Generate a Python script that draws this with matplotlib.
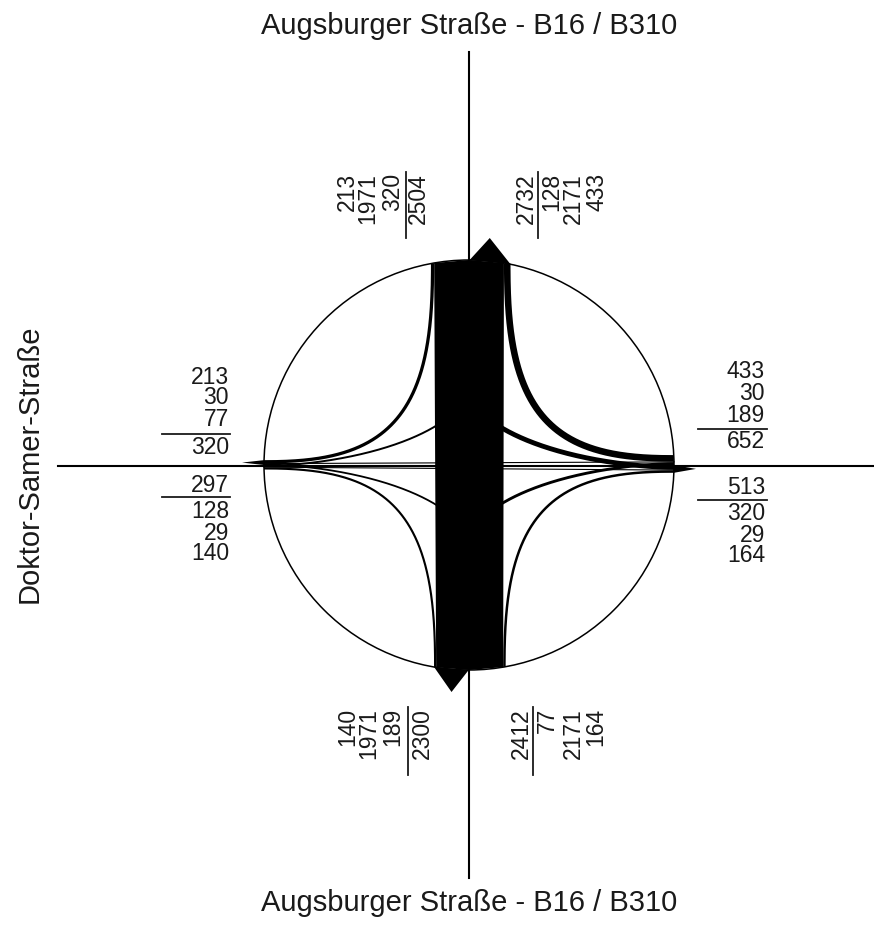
import numpy as np
import matplotlib
matplotlib.use("Agg")
import matplotlib.pyplot as plt
from matplotlib.patches import Polygon, Circle

plt.rcParams['font.family'] = ['Liberation Sans', 'DejaVu Sans']

# traffic volumes (veh) per arm, as printed in the plan
north_in = [213, 1971, 320]    # outer -> inner : to W, to S, to E
north_out = [128, 2171, 433]   # inner -> outer : from W, from S, from E
south_out = [140, 1971, 189]   # outer -> inner : from W, from N, from E
south_in = [77, 2171, 164]     # inner -> outer : to W, to N, to E
west_out = [213, 30, 77]       # top -> bottom : from N, from E, from S
west_in = [128, 29, 140]       # top -> bottom : to N, to E, to S
east_in = [433, 30, 189]       # top -> bottom : to N, to W, to S
east_out = [320, 29, 164]      # top -> bottom : from N, from W, from S

street_ns = "Augsburger Straße - B16 / B310"
street_w = "Doktor-Samer-Straße"

k = 0.0152      # px per vehicle
R = 205         # circle radius (px)
PT = 0.72       # px -> pt at dpi 100


def centers(vals):
    v = np.array(vals) * k
    e = np.concatenate([[0], np.cumsum(v)])
    return (e[:-1] + e[1:]) / 2


def curve(cx, cy, ax_, by_, q, n=600):
    t = np.linspace(0, np.pi / 2, n)
    return cx + ax_ * np.cos(t) ** (2 / q), cy + by_ * np.sin(t) ** (2 / q)


def circ(v):
    return np.sqrt(R ** 2 - v ** 2)


def lw(v):
    return max(v * k * PT, 1.3)


fig = plt.figure(figsize=(8.74, 9.33), dpi=100)
ax = fig.add_axes([0, 0, 1, 1])
ax.set_xlim(-469, 405)
ax.set_ylim(-468, 465)
ax.axis('off')

# axes of the junction
ax.plot([-411, 406], [-1, -1], color='black', lw=1.5, zorder=1)
ax.plot([0, 0], [-413, 413], color='black', lw=1.5, zorder=1)
ax.add_patch(Circle((0, 0), R, fill=False, ec='black', lw=1.1, zorder=2))

# slot centres (distance from axis)
cn_in = centers(north_in[::-1])[::-1]
cn_out = centers(north_out)
cs_out = centers(south_out[::-1])[::-1]
cs_in = centers(south_in)
cw_out = centers(west_out[::-1])[::-1]
cw_in = centers(west_in)
ce_in = centers(east_in[::-1])[::-1]
ce_out = centers(east_out)

# right turns (big curves)
big = [(-cn_in[0], cw_out[0], -1, 1, north_in[0]),
       (cn_out[2], ce_in[0], 1, 1, north_out[2]),
       (-cs_out[0], -cw_in[2], -1, -1, south_out[0]),
       (cs_in[2], -ce_out[2], 1, -1, south_in[2])]
for x0, y0, sx, sy, v in big:
    a = sx * circ(y0) - x0
    b = sy * circ(x0) - y0
    xs, ys = curve(x0, y0, a, b, 0.45)
    ax.plot(xs, ys, color='black', lw=lw(v), solid_capstyle='butt', zorder=3)

# left turns (small curves)
bs = 80
small = [(cn_out[0], -cw_in[0], -1, 1, north_out[0]),
         (-cn_in[2], -ce_out[0], 1, 1, north_in[2]),
         (-cs_out[2], ce_in[2], 1, -1, south_out[2]),
         (cs_in[0], cw_out[2], -1, -1, south_in[0])]
for x0, y0, sx, sy, v in small:
    a = sx * circ(y0) - x0
    xs, ys = curve(x0, y0, a, sy * bs, 0.6)
    ax.plot(xs, ys, color='black', lw=lw(v), solid_capstyle='butt', zorder=3)

# straight east-west
ax.plot([circ(ce_in[1]), -circ(cw_out[1])], [ce_in[1], cw_out[1]],
        color='black', lw=0.8, zorder=3)
ax.plot([-circ(cw_in[1]), circ(ce_out[1])], [-cw_in[1], -ce_out[1]],
        color='black', lw=0.8, zorder=3)

# north-south column
lt = (north_in[1] + north_in[2]) * k
lb = (south_out[1] + south_out[2]) * k
rt = (north_out[0] + north_out[1]) * k
rb = (south_in[0] + south_in[1]) * k
ax.add_patch(Polygon([(-lt, circ(lt)), (-0.3, R), (-0.3, -R), (-lb, -circ(lb))],
                     closed=True, fc='black', ec='none', zorder=4))
ax.add_patch(Polygon([(0.6, R), (rt, circ(rt)), (rb, -circ(rb)), (0.6, -R)],
                     closed=True, fc='black', ec='none', zorder=4))

# arrow heads on outgoing streams
al = 22
wn = sum(north_out) * k
ws = sum(south_out) * k
ww = sum(west_out) * k
we = sum(east_out) * k
ax.add_patch(Polygon([(0.6, R), (wn, circ(wn)), (wn / 2, R + al)], fc='black', ec='none', zorder=4))
ax.add_patch(Polygon([(-ws, -circ(ws)), (-0.3, -R), (-ws / 2, -R - al)], fc='black', ec='none', zorder=4))
ax.add_patch(Polygon([(-R, 0), (-circ(ww), ww), (-R - al, ww / 2)], fc='black', ec='none', zorder=4))
ax.add_patch(Polygon([(R, 0), (circ(we), -we), (R + al, -we / 2)], fc='black', ec='none', zorder=4))

# labels
fs = 16.5
tc = '#1a1a1a'


def col(lst, x, ys):
    for v, y in zip(lst, ys):
        ax.text(x, y, str(v), ha='right', va='center', fontsize=fs, color=tc)


col(west_out, -240, [88, 67, 46])
ax.text(-240, 17, str(sum(west_out)), ha='right', va='center', fontsize=fs, color=tc)
ax.plot([-307, -239], [31, 31], color=tc, lw=1.3)
ax.text(-240, -20, str(sum(west_in)), ha='right', va='center', fontsize=fs, color=tc)
ax.plot([-307, -239], [-32, -32], color=tc, lw=1.3)
col(west_in, -240, [-47, -68, -89])

col(east_in, 296, [93, 71, 49])
ax.plot([229, 298], [36, 36], color=tc, lw=1.3)
ax.text(296, 23, str(sum(east_in)), ha='right', va='center', fontsize=fs, color=tc)
ax.text(296, -22, str(sum(east_out)), ha='right', va='center', fontsize=fs, color=tc)
ax.plot([229, 298], [-35, -35], color=tc, lw=1.3)
col(east_out, 296, [-49, -70, -91])


def vcol(lst, xs, y):
    for v, x in zip(lst, xs):
        ax.text(x, y, str(v), ha='center', va='top', rotation=90, fontsize=fs, color=tc)


vcol(north_in, [-122, -101, -76], 292)
ax.plot([-63, -63], [227, 293], color=tc, lw=1.3)
vcol([sum(north_in)], [-51], 292)
vcol([sum(north_out)], [57], 292)
ax.plot([69, 69], [227, 293], color=tc, lw=1.3)
vcol(north_out, [83, 104, 128], 292)

vcol(south_out, [-121, -100, -76], -243)
ax.plot([-61, -61], [-242, -310], color=tc, lw=1.3)
vcol([sum(south_out)], [-47], -243)
vcol([sum(south_in)], [52], -243)
ax.plot([64, 64], [-242, -310], color=tc, lw=1.3)
vcol(south_in, [78, 104, 127], -243)

ax.text(0, 439, street_ns, ha='center', va='center', fontsize=21, color=tc)
ax.text(0, -438, street_ns, ha='center', va='center', fontsize=21, color=tc)
ax.text(-439, 1, street_w, ha='center', va='center', rotation=90, fontsize=21, color=tc)

fig.savefig('out.png', dpi=100, facecolor='white')
